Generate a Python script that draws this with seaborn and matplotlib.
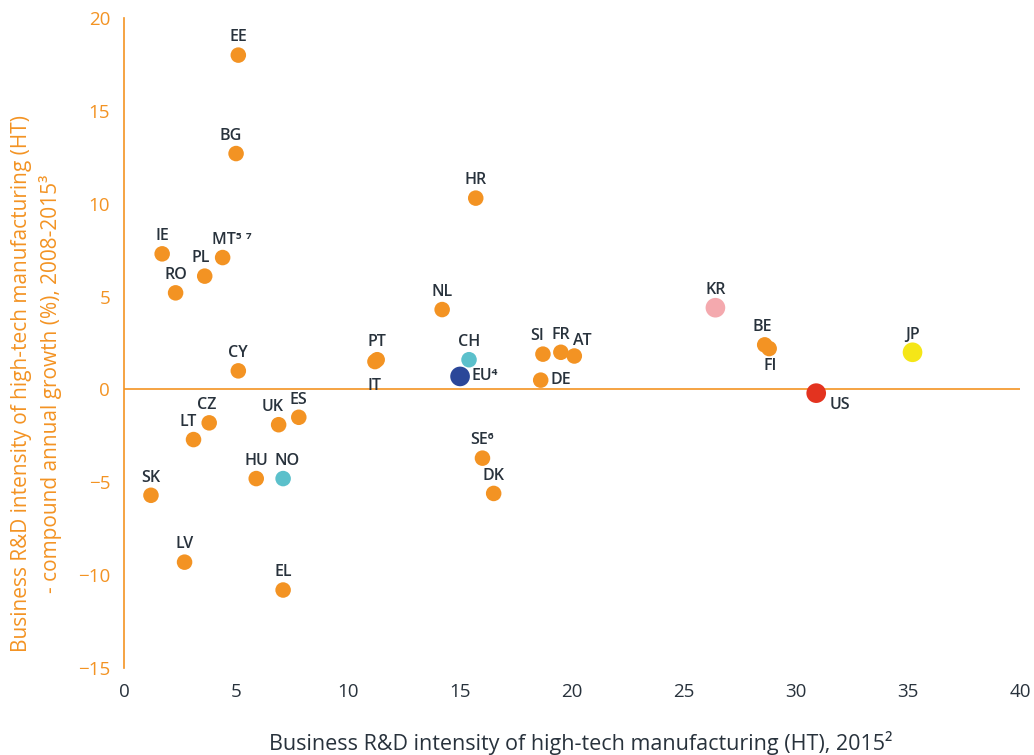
import matplotlib
matplotlib.use("Agg")
import matplotlib.pyplot as plt
import seaborn as sns
import pandas as pd

# Country codes and values
countries = ["EE", "BG", "HR", "IE", "MT⁵ ⁷", "PL", "RO", "NL", "KR", "BE", "FI", "JP",
             "PT", "IT", "CH", "EU⁴", "SI", "FR", "AT", "DE", "CY", "US", "CZ", "LT",
             "UK", "ES", "SE⁶", "DK", "HU", "NO", "SK", "LV", "EL"]
intensity_2015 = [5.1, 5.0, 15.7, 1.7, 4.4, 3.6, 2.3, 14.2, 26.4, 28.6, 28.8, 35.2,
                  11.3, 11.2, 15.4, 15.0, 18.7, 19.5, 20.1, 18.6, 5.1, 30.9, 3.8, 3.1,
                  6.9, 7.8, 16.0, 16.5, 5.9, 7.1, 1.2, 2.7, 7.1]
growth_2008_2015 = [18.0, 12.7, 10.3, 7.3, 7.1, 6.1, 5.2, 4.3, 4.4, 2.4, 2.2, 2.0,
                    1.6, 1.5, 1.6, 0.7, 1.9, 2.0, 1.8, 0.5, 1.0, -0.2, -1.8, -2.7,
                    -1.9, -1.5, -3.7, -5.6, -4.8, -4.8, -5.7, -9.3, -10.8]
groups = ["Member", "Member", "Member", "Member", "Member", "Member", "Member", "Member",
          "KR", "Member", "Member", "JP", "Member", "Member", "Assoc", "EU", "Member",
          "Member", "Member", "Member", "Member", "US", "Member", "Member", "Member",
          "Member", "Member", "Member", "Member", "Assoc", "Member", "Member", "Member"]

ORANGE = "#F39323"
DARK = "#28323C"
palette = {"Member": ORANGE, "EU": "#2B4799", "Assoc": "#5BC0CB",
           "KR": "#F4A9AE", "US": "#E3331F", "JP": "#F5E617"}
sizes = {"Member": 125, "EU": 200, "Assoc": 125, "KR": 200, "US": 200, "JP": 200}

# Label offsets (points) and alignment for each country label
label_pos = {
    "IT": (0, -12, "center", "top"),
    "EU⁴": (8, 0, "left", "center"),
    "DE": (7, 0, "left", "center"),
    "FI": (1, -7, "center", "top"),
    "US": (10, -3, "left", "top"),
    "SI": (-4, 7, "center", "bottom"),
    "AT": (6, 5, "center", "bottom"),
    "MT⁵ ⁷": (-8, 7, "left", "bottom"),
    "PL": (-3, 7, "center", "bottom"),
    "LT": (-4, 7, "center", "bottom"),
    "UK": (-4, 7, "center", "bottom"),
    "NO": (3, 7, "center", "bottom"),
    "CZ": (-2, 7, "center", "bottom"),
    "BG": (-4, 7, "center", "bottom"),
    "BE": (-2, 7, "center", "bottom"),
}

df = pd.DataFrame({"country": countries, "x": intensity_2015,
                   "y": growth_2008_2015, "group": groups})

sns.set_theme(style="white")
plt.rcParams["font.family"] = ["Open Sans", "DejaVu Sans"]

fig = plt.figure(figsize=(10.34, 7.55), dpi=100)
ax = fig.add_axes([0.12, 0.1152, 0.8665, 0.861])

ax.axhline(0, color=ORANGE, lw=1.2, zorder=1)
sns.scatterplot(data=df, x="x", y="y", hue="group", palette=palette,
                size="group", sizes=sizes, linewidth=0, legend=False,
                ax=ax, zorder=3)

for name, xv, yv in zip(countries, intensity_2015, growth_2008_2015):
    dx, dy, ha, va = label_pos.get(name, (0, 7, "center", "bottom"))
    ax.annotate(name, (xv, yv), xytext=(dx, dy), textcoords="offset points",
                ha=ha, va=va, fontsize=11.5, fontweight="semibold", color=DARK,
                zorder=4)

ax.set_xlim(0, 40)
ax.set_ylim(-15, 20)
ax.set_xticks(range(0, 41, 5))
ax.set_yticks(range(-15, 21, 5))

for side in ["top", "right", "bottom"]:
    ax.spines[side].set_visible(False)
ax.spines["left"].set_color(ORANGE)
ax.spines["left"].set_linewidth(1.2)

ax.tick_params(axis="x", length=0, labelsize=13.5, labelcolor=DARK, pad=11)
ax.tick_params(axis="y", length=0, labelsize=13.5, labelcolor=ORANGE, pad=10)

ax.set_xlabel("Business R&D intensity of high-tech manufacturing (HT), 2015²",
              fontsize=15.5, color=DARK)
ax.xaxis.set_label_coords(0.51, -0.097)
ax.set_ylabel("Business R&D intensity of high-tech manufacturing (HT)\n"
              "- compound annual growth (%), 2008-2015³",
              fontsize=15, color=ORANGE, linespacing=1.4)
ax.yaxis.set_label_coords(-0.069, 0.437)

fig.savefig("out.png", dpi=100)
